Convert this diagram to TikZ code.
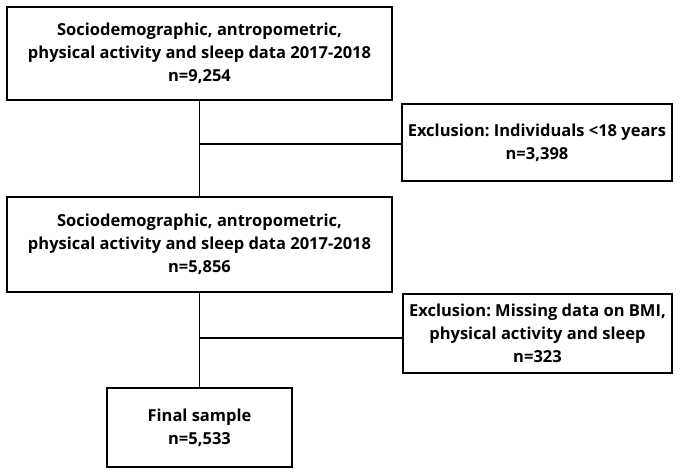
\documentclass[tikz,border=0pt]{standalone}
\usepackage{fontspec}
\setmainfont{Open Sans}
\frenchspacing
\begin{document}
\begin{tikzpicture}
            [x=1pt, y=-1pt,
            mainbox/.style={draw=black, line width=1.6pt, align=center, inner sep=0pt, font=\bfseries\fontsize{16.5}{23}\selectfont},
            exclbox/.style={mainbox}]

            \useasboundingbox (0,0) rectangle (685,476);

            \node[mainbox, minimum width=385pt, minimum height=93pt] (data1) at (199.5,53.5)
                {Sociodemographic, antropometric,\\ physical activity and sleep data 2017-2018\\ n=9,254};
            \node[exclbox, minimum width=270pt, minimum height=77pt] (excl1) at (537,142.5)
                {Exclusion: Individuals <18 years\\ n=3,398};
            \node[mainbox, minimum width=385pt, minimum height=95pt] (data2) at (199.5,244.5)
                {Sociodemographic, antropometric,\\ physical activity and sleep data 2017-2018\\ n=5,856};
            \node[exclbox, minimum width=269pt, minimum height=79pt] (excl2) at (537.5,333.5)
                {Exclusion: Missing data on BMI,\\ physical activity and sleep\\ n=323};
            \node[mainbox, minimum width=185pt, minimum height=79pt] (final) at (199.5,427.5)
                {Final sample\\ n=5,533};

            \coordinate (j1) at (199.5,144);
            \coordinate (j2) at (199.5,338);

            \draw[line width=1.6pt] (data1) -- (data2);
            \draw[line width=1.6pt] (j1) -- (j1 -| excl1.west);
            \draw[line width=1.6pt] (data2) -- (final);
            \draw[line width=1.6pt] (j2) -- (j2 -| excl2.west);

        \end{tikzpicture}
\end{document}
